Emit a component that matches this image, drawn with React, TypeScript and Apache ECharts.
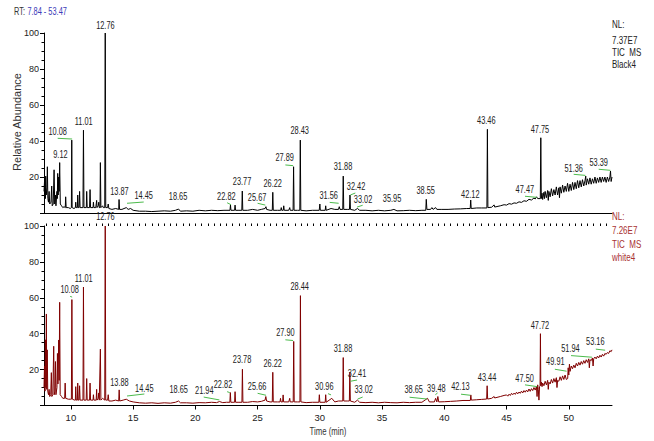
import React, { useEffect, useRef } from "react";
import * as echarts from "echarts";

const FONT = '"Liberation Sans", Arial, sans-serif';

// RT range
const RT_MIN = 7.84;
const RT_MAX = 53.47;

// Top chromatogram (Black4), [time, relative abundance]
const blackTrace: [number, number][] = [
  [7.84, 12], [7.9, 20], [7.95, 8], [7.98, 20.5], [8.02, 10], [8.08, 14], [8.11, 25.7], [8.15, 8], [8.2, 6], [8.25, 12],
  [8.3, 5], [8.4, 6], [8.46, 15], [8.5, 4], [8.58, 5], [8.65, 24], [8.7, 5], [8.76, 10], [8.8, 4], [8.88, 12],
  [8.91, 8], [8.94, 22], [8.98, 10], [9.02, 20], [9.06, 12], [9.1, 28], [9.15, 5], [9.25, 4], [9.35, 3], [9.45, 3.5],
  [9.55, 3], [9.58, 9], [9.62, 3], [9.8, 3], [9.95, 2.5], [10.04, 3], [10.07, 40.5], [10.1, 3], [10.25, 2.5], [10.36, 3],
  [10.39, 6], [10.42, 3], [10.52, 3], [10.55, 10], [10.59, 3], [10.66, 3], [10.7, 12], [10.74, 3], [10.9, 3], [10.97, 3],
  [11.01, 46], [11.05, 3], [11.24, 3], [11.27, 12], [11.31, 3], [11.5, 3], [11.54, 13], [11.58, 3], [11.78, 3], [11.81, 6],
  [11.85, 3], [12.0, 3], [12.07, 7], [12.1, 3], [12.2, 4], [12.24, 6], [12.28, 3], [12.34, 3], [12.37, 28], [12.41, 3],
  [12.55, 4], [12.6, 3], [12.72, 3], [12.76, 100], [12.8, 3], [12.95, 3], [13.0, 5], [13.05, 2.5], [13.3, 2], [13.6, 2.5],
  [13.84, 2], [13.87, 7.5], [13.91, 2], [14.1, 2], [14.45, 3], [14.6, 2], [14.8, 2.5], [15.0, 1.5], [15.5, 1], [16.0, 1],
  [16.5, 0.8], [17.0, 1], [17.5, 1.2], [18.0, 1], [18.4, 1.5], [18.65, 2.2], [18.8, 1], [19.3, 1.2], [19.8, 1], [20.3, 1.5],
  [20.8, 1.2], [21.3, 1.5], [21.8, 1.3], [22.3, 1.5], [22.78, 1.5], [22.82, 4.4], [22.86, 1.5], [23.15, 1.5], [23.19, 4.4], [23.23, 1.5],
  [23.5, 1.5], [23.73, 1.5], [23.77, 12.2], [23.81, 1.5], [24.2, 1.5], [24.6, 2], [25.0, 1.5], [25.3, 2], [25.6, 2.5], [25.67, 3.5],
  [25.72, 2], [26.0, 1.5], [26.18, 1.5], [26.22, 11.5], [26.26, 1.5], [26.6, 1.5], [26.86, 1.5], [26.9, 3], [26.94, 1.5], [27.06, 1.5],
  [27.1, 4], [27.14, 1.5], [27.5, 1.5], [27.58, 3], [27.62, 1.5], [27.85, 1.5], [27.89, 25.7], [27.93, 1.5], [28.2, 1.5], [28.39, 1.5],
  [28.43, 40.5], [28.47, 1.5], [28.9, 1.2], [29.4, 1.5], [29.95, 1.5], [30.0, 5], [30.04, 1.5], [30.43, 1.5], [30.47, 4], [30.51, 1.5],
  [30.9, 2.5], [31.2, 2], [31.5, 2], [31.56, 3.5], [31.62, 2], [31.84, 2], [31.88, 20.5], [31.92, 2], [32.2, 2], [32.38, 2],
  [32.42, 10], [32.46, 2], [32.8, 1.5], [33.02, 2.5], [33.2, 1.5], [33.7, 1.5], [34.2, 1.2], [34.7, 1.5], [35.2, 1.2], [35.7, 1.5],
  [35.95, 2], [36.2, 1.2], [36.7, 1.3], [37.2, 1.5], [37.7, 1.3], [38.2, 1.5], [38.51, 1.5], [38.55, 7.6], [38.6, 2], [38.9, 2],
  [39.0, 3], [39.1, 2], [39.3, 3], [39.4, 2], [39.8, 2], [40.3, 2], [40.8, 2.2], [41.3, 2.3], [41.8, 2.5], [42.08, 2.5],
  [42.12, 7.2], [42.16, 2.5], [42.6, 2.8], [43.0, 2.8], [43.42, 2.8], [43.46, 46.5], [43.5, 3], [43.8, 3.2], [44.0, 4.5], [44.05, 3.3],
  [44.5, 4], [44.8, 4.6], [45.0, 4.4], [45.2, 5.2], [45.4, 4.9], [45.6, 5.6], [45.8, 5.4], [46.0, 6.2], [46.2, 5.9], [46.4, 6.8],
  [46.6, 6.5], [46.8, 7.6], [47.0, 7.2], [47.2, 8.3], [47.3, 7.8], [47.41, 9], [47.5, 8], [47.71, 8], [47.75, 41.8], [47.79, 8],
  [47.85, 11], [47.9, 7.5], [48.0, 11.5], [48.05, 8], [48.1, 12], [48.2, 8.5], [48.3, 12.5], [48.35, 7], [48.4, 12], [48.5, 9],
  [48.6, 13.5], [48.7, 9.5], [48.8, 13], [48.9, 10], [49.0, 14.5], [49.1, 10], [49.2, 14], [49.25, 8.5], [49.3, 14.5], [49.4, 11],
  [49.5, 15.5], [49.6, 11.5], [49.7, 15], [49.8, 12], [49.9, 16.5], [50.0, 12], [50.1, 16], [50.2, 12.5], [50.3, 17], [50.4, 13],
  [50.5, 17], [50.6, 13.5], [50.7, 18], [50.8, 14], [50.9, 18], [51.0, 14.5], [51.1, 18.5], [51.2, 15], [51.3, 18], [51.36, 20.5],
  [51.4, 15.5], [51.5, 19], [51.6, 16], [51.7, 19.5], [51.8, 16], [51.9, 19], [52.0, 16.5], [52.1, 20], [52.2, 16.5], [52.3, 19.5],
  [52.4, 17], [52.5, 20], [52.6, 17], [52.7, 20], [52.8, 17.5], [52.9, 20], [53.0, 17], [53.1, 20], [53.2, 17.5], [53.3, 20],
  [53.35, 23.3], [53.4, 17.5], [53.47, 20],
];

// Bottom chromatogram (white4), [time, relative abundance]
const redTrace: [number, number][] = [
  [7.84, 10], [7.88, 22], [7.92, 8], [7.95, 36.6], [7.99, 10], [8.03, 51], [8.06, 9], [8.1, 31], [8.14, 8], [8.2, 6],
  [8.25, 9], [8.3, 5], [8.38, 6], [8.43, 18.3], [8.47, 5], [8.55, 6], [8.62, 33], [8.66, 6], [8.72, 8], [8.76, 24.5],
  [8.8, 6], [8.88, 10], [8.92, 29], [8.96, 12], [9.02, 36.5], [9.06, 14], [9.1, 57.5], [9.14, 6], [9.25, 5], [9.35, 4],
  [9.5, 4], [9.54, 12.5], [9.58, 4], [9.8, 3.5], [9.95, 3.5], [10.04, 3.5], [10.08, 59], [10.12, 3.5], [10.3, 3], [10.36, 3],
  [10.39, 10.5], [10.43, 3], [10.52, 3], [10.55, 12.5], [10.59, 3], [10.66, 3], [10.7, 11], [10.74, 3], [10.97, 3], [11.01, 66],
  [11.05, 3], [11.23, 3], [11.27, 15], [11.31, 3], [11.5, 3], [11.54, 12.5], [11.58, 3], [11.78, 3], [11.81, 6], [11.85, 3],
  [12.03, 3], [12.07, 9], [12.1, 3], [12.2, 4], [12.24, 7], [12.28, 3], [12.33, 3], [12.37, 31.4], [12.41, 3], [12.55, 4],
  [12.72, 3], [12.76, 100], [12.8, 3], [12.95, 3], [13.0, 6], [13.05, 2.5], [13.3, 2.5], [13.6, 3], [13.84, 2.5], [13.88, 8.7],
  [13.92, 2.5], [14.2, 3], [14.45, 3.5], [14.7, 2.5], [15.0, 2], [15.5, 1.5], [16.0, 1.3], [16.5, 1.5], [17.0, 1.2], [17.5, 1.5],
  [18.0, 1.3], [18.4, 1.8], [18.65, 2.5], [18.8, 1.5], [19.3, 1.5], [19.8, 1.3], [20.3, 1.6], [20.8, 1.5], [21.3, 1.8], [21.7, 1.6],
  [21.94, 2.2], [22.2, 1.6], [22.5, 1.8], [22.77, 1.8], [22.81, 7.2], [22.85, 1.8], [23.15, 1.8], [23.19, 7.7], [23.23, 1.8], [23.5, 1.8],
  [23.74, 1.8], [23.78, 20.2], [23.82, 1.8], [24.2, 1.8], [24.6, 2.2], [25.0, 2], [25.3, 2.3], [25.6, 3], [25.66, 5], [25.72, 2.5],
  [26.0, 2], [26.18, 2], [26.22, 18.5], [26.26, 2], [26.6, 2], [26.8, 2], [26.84, 4], [26.88, 2], [27.01, 2], [27.05, 5.9],
  [27.09, 2], [27.5, 2], [27.58, 4], [27.62, 2], [27.86, 2], [27.9, 35.7], [27.94, 2], [28.2, 2], [28.4, 2], [28.44, 61.2],
  [28.48, 2], [28.9, 1.6], [29.4, 1.8], [29.92, 1.8], [29.96, 6], [30.0, 1.8], [30.43, 1.8], [30.47, 6], [30.51, 1.8], [30.96, 4],
  [31.2, 2], [31.5, 2.5], [31.84, 2.5], [31.88, 26.7], [31.92, 2.5], [32.2, 2.5], [32.37, 2.5], [32.41, 18.5], [32.45, 2.5], [32.8, 1.8],
  [33.02, 3], [33.2, 1.8], [33.7, 1.6], [34.2, 1.8], [34.7, 1.5], [35.2, 1.8], [35.7, 1.6], [36.2, 1.5], [36.7, 1.8], [37.2, 1.6],
  [37.7, 1.8], [38.2, 1.8], [38.65, 4], [38.8, 2], [39.2, 2], [39.3, 4], [39.4, 2], [39.48, 5], [39.55, 2], [40.0, 2.1],
  [40.5, 2.3], [41.0, 2.5], [41.5, 2.8], [42.09, 2.8], [42.13, 5.9], [42.17, 3], [42.6, 3.2], [43.0, 3.4], [43.4, 3.6], [43.44, 11],
  [43.48, 3.6], [43.8, 4], [44.0, 5], [44.05, 4.2], [44.5, 5], [44.8, 5.6], [45.0, 5.9], [45.1, 5.2], [45.2, 6.3], [45.3, 5.6],
  [45.4, 6.8], [45.5, 6.0], [45.6, 6.9], [45.7, 6.2], [45.8, 7.4], [45.9, 6.5], [46.0, 7.5], [46.1, 6.8], [46.2, 8.0], [46.3, 7.0],
  [46.4, 8.3], [46.5, 7.4], [46.6, 8.6], [46.7, 7.6], [46.8, 9.2], [46.9, 7.9], [47.0, 9.4], [47.1, 8.3], [47.2, 10.0], [47.3, 8.6],
  [47.4, 10.5], [47.45, 5], [47.5, 11.5], [47.55, 9], [47.6, 3], [47.65, 10.5], [47.69, 11], [47.72, 40], [47.75, 11], [47.8, 13],
  [47.85, 10.5], [47.9, 12.5], [48.0, 11], [48.1, 13.5], [48.2, 11.5], [48.3, 14], [48.35, 9], [48.4, 13], [48.5, 12], [48.6, 14.5],
  [48.7, 12.5], [48.8, 15], [48.9, 13], [49.0, 15.5], [49.05, 10], [49.1, 14], [49.2, 13.5], [49.3, 16], [49.4, 14], [49.5, 16.5],
  [49.6, 14.5], [49.7, 17], [49.8, 14.5], [49.91, 15], [49.95, 21], [50.0, 17], [50.05, 23], [50.1, 19], [50.2, 22], [50.3, 20.5],
  [50.4, 22.5], [50.5, 21], [50.6, 23.5], [50.7, 22], [50.8, 24], [50.9, 22.5], [51.0, 24.5], [51.1, 23], [51.2, 25], [51.3, 23.5],
  [51.4, 25.5], [51.5, 24], [51.6, 26], [51.65, 21], [51.7, 25.5], [51.8, 25], [51.9, 26.5], [51.95, 22], [52.0, 26], [52.1, 27],
  [52.2, 26], [52.3, 27.5], [52.4, 26.5], [52.5, 28], [52.6, 27], [52.7, 28.5], [52.8, 27.5], [52.9, 29], [53.0, 28.5], [53.1, 29.5],
  [53.2, 29], [53.3, 30.5], [53.4, 30], [53.47, 31],
];

// Peak labels: [text, time at label centre, abundance at label bottom]
const blackLabels: [string, number, number][] = [
  ["12.76", 12.77, 101.1], ["11.01", 11.03, 48], ["10.08", 8.94, 42.4], ["9.12", 9.16, 29.4], ["13.87", 13.9, 9],
  ["14.45", 15.85, 6.8], ["18.65", 18.61, 6.3], ["22.82", 22.49, 6.3], ["23.77", 23.75, 14.6], ["25.67", 24.96, 5.7],
  ["26.22", 26.21, 13.7], ["27.89", 27.17, 28], ["28.43", 28.38, 42.8], ["31.56", 30.71, 6.7], ["31.88", 31.86, 23],
  ["32.42", 32.91, 11.8], ["33.02", 33.47, 4.4], ["35.95", 35.8, 5.4], ["38.55", 38.5, 9.4], ["42.12", 42.09, 7.6],
  ["43.46", 43.37, 48.3], ["47.47", 46.47, 10.4], ["47.75", 47.68, 43.7], ["51.36", 50.39, 21.7], ["53.39", 52.4, 25.2],
];

const redLabels: [string, number, number][] = [
  ["12.76", 12.77, 102.7], ["11.01", 11.03, 67.9], ["10.08", 9.9, 61.7], ["13.88", 13.9, 10.2], ["14.45", 15.9, 6.8],
  ["18.65", 18.66, 5.9], ["21.94", 20.72, 5.3], ["22.82", 22.22, 8.7], ["23.78", 23.75, 22.6], ["25.66", 24.96, 7.7],
  ["26.22", 26.21, 20.8], ["27.90", 27.23, 37.9], ["28.44", 28.38, 63.6], ["30.96", 30.36, 7.7], ["31.88", 31.86, 28.8],
  ["32.41", 32.99, 15.2], ["33.02", 33.52, 5.9], ["38.65", 37.54, 5.9], ["39.48", 39.36, 6.4], ["42.13", 41.29, 7.7],
  ["43.44", 43.43, 12.8], ["47.50", 46.45, 12.4], ["47.72", 47.68, 41.8], ["49.91", 48.92, 21.7], ["51.94", 50.13, 28.8],
  ["53.16", 52.13, 32.8],
];

// Green label leader segments: [t1, v1, t2, v2]
const blackLeaders: [number, number, number, number][] = [
  [8.94, 41.5, 10.1, 41.1], [14.51, 5.4, 15.85, 6.1], [22.55, 5.7, 22.87, 4.6], [25.0, 5.4, 25.62, 4.4],
  [27.23, 26.7, 27.85, 26.3], [30.79, 5.9, 31.51, 5.4], [32.45, 10, 32.85, 11.1], [32.99, 3.3, 33.44, 4.3],
  [46.48, 9.3, 47.42, 8.7], [50.39, 21.5, 51.33, 20.9], [52.4, 24.3, 53.34, 23.7],
];

const redLeaders: [number, number, number, number][] = [
  [9.94, 60.8, 10.1, 60.4], [14.51, 5.3, 15.9, 6.4], [20.67, 4.7, 21.93, 3.1], [22.55, 7.7, 22.76, 7.2],
  [25.0, 6.8, 25.68, 5.7], [27.23, 36.6, 27.85, 36.2], [30.66, 6.6, 30.9, 5.9], [32.45, 13.5, 32.99, 14.2],
  [33.04, 3.6, 33.44, 4.7], [37.21, 4.6, 38.61, 3.6], [39.28, 6, 39.46, 7], [41.34, 6.3, 42.09, 5.7],
  [46.48, 11.5, 47.46, 10.5], [48.88, 20.2, 49.82, 19.1], [50.18, 27.8, 51.86, 26.9], [52.17, 31.4, 52.92, 30.8],
];

// Axis ticks
const X_MAJOR_TICKS = [10, 15, 20, 25, 30, 35, 40, 45, 50];
const X_MINOR_TICKS = Array.from({ length: 92 }, (_, i) => 8 + i * 0.5).filter((v) => v <= RT_MAX);

const TOP_INFO = ["NL:", "7.37E7", "TIC  MS", "Black4"];
const BOTTOM_INFO = ["NL:", "7.26E7", "TIC  MS", "white4"];

const GREEN = "#4cbb4c";
const BLACK_LINE = "#000000";
const RED_LINE = "#800000";
const RED_TEXT = "#a83232";
const LABEL_COLOR = "#222222";
const NARROW = 0.74;

const GRID_LEFT = 44;
const GRID_WIDTH = 568;

function yAxisDef(gridIndex: number) {
  return {
    type: "value",
    gridIndex,
    min: 0,
    max: 100,
    interval: 20,
    axisLine: { show: true, onZero: false, lineStyle: { color: "#000", width: 1 } },
    axisTick: { show: true, length: 4, lineStyle: { color: "#000" } },
    minorTick: { show: true, splitNumber: 4, length: 2.5, lineStyle: { color: "#000" } },
    splitLine: { show: false },
    axisLabel: {
      fontSize: 9,
      fontFamily: FONT,
      color: "#222",
      margin: 5,
      formatter: (v: number) => (v === 0 ? "" : String(v)),
    },
  };
}

function labelSeries(labels: [string, number, number][], idx: number) {
  return {
    type: "custom",
    coordinateSystem: "cartesian2d",
    xAxisIndex: idx === 0 ? 0 : 1,
    yAxisIndex: idx,
    clip: false,
    silent: true,
    z: 5,
    data: labels.map(([, t, v]) => [t, v]),
    renderItem: (params: any, api: any) => {
      const p = api.coord([api.value(0), api.value(1)]);
      return {
        type: "text",
        x: p[0],
        y: p[1],
        scaleX: NARROW,
        style: {
          text: labels[params.dataIndex][0],
          fontSize: 10,
          fontFamily: FONT,
          fill: LABEL_COLOR,
          align: "center",
          verticalAlign: "bottom",
        },
      };
    },
  };
}

function leaderSeries(leaders: [number, number, number, number][], idx: number) {
  return {
    type: "lines",
    coordinateSystem: "cartesian2d",
    xAxisIndex: idx === 0 ? 0 : 1,
    yAxisIndex: idx,
    silent: true,
    z: 4,
    lineStyle: { color: GREEN, width: 1, opacity: 1 },
    data: leaders.map(([t1, v1, t2, v2]) => ({ coords: [[t1, v1], [t2, v2]] })),
  };
}

function infoTexts(lines: string[], ys: number[], color: string) {
  return lines.map((s, i) => ({
    type: "text",
    x: 612,
    y: ys[i],
    scaleX: 0.8,
    style: { text: s, fontSize: 10, fontFamily: FONT, fill: color, align: "left", verticalAlign: "middle" },
  }));
}

export default function App() {
  const ref = useRef<HTMLDivElement>(null);

  useEffect(() => {
    if (!ref.current) return;
    const chart = echarts.init(ref.current, null, { renderer: "svg" });
    chart.setOption({
      animation: false,
      backgroundColor: "#ffffff",
      grid: [
        { left: GRID_LEFT, top: 33, width: GRID_WIDTH, height: 180 },
        { left: GRID_LEFT, top: 226, width: GRID_WIDTH, height: 179.5 },
      ],
      xAxis: [
        {
          type: "value",
          gridIndex: 0,
          min: RT_MIN,
          max: RT_MAX,
          axisLine: { show: true, onZero: false, lineStyle: { color: "#000", width: 1 } },
          axisTick: { show: false },
          axisLabel: { show: false },
          splitLine: { show: false },
        },
        {
          type: "value",
          gridIndex: 1,
          min: RT_MIN,
          max: RT_MAX,
          axisLine: { show: true, onZero: false, lineStyle: { color: "#000", width: 1 } },
          axisTick: { show: true, length: 4, customValues: X_MAJOR_TICKS, lineStyle: { color: "#000" } },
          axisLabel: {
            show: true,
            customValues: X_MAJOR_TICKS,
            fontSize: 9.5,
            fontFamily: FONT,
            color: "#222",
            margin: 7,
          },
          splitLine: { show: false },
        },
        {
          type: "value",
          gridIndex: 1,
          min: RT_MIN,
          max: RT_MAX,
          axisLine: { show: false, onZero: false },
          axisTick: { show: true, length: 2.5, customValues: X_MINOR_TICKS, lineStyle: { color: "#000" } },
          axisLabel: { show: false },
          splitLine: { show: false },
        },
      ],
      yAxis: [yAxisDef(0), yAxisDef(1)],
      series: [
        {
          type: "line",
          xAxisIndex: 0,
          yAxisIndex: 0,
          data: blackTrace,
          showSymbol: false,
          symbol: "none",
          lineStyle: { color: BLACK_LINE, width: 1 },
          z: 3,
        },
        {
          type: "line",
          xAxisIndex: 1,
          yAxisIndex: 1,
          data: redTrace,
          showSymbol: false,
          symbol: "none",
          lineStyle: { color: RED_LINE, width: 1 },
          z: 3,
        },
        leaderSeries(blackLeaders, 0),
        leaderSeries(redLeaders, 1),
        labelSeries(blackLabels, 0),
        labelSeries(redLabels, 1),
      ],
      graphic: [
        {
          type: "text",
          x: 14,
          y: 12,
          scaleX: NARROW,
          style: {
            text: "{a|RT:} {b|7.84 - 53.47}",
            verticalAlign: "middle",
            rich: {
              a: { fontSize: 10, fontFamily: FONT, fill: "#333" },
              b: { fontSize: 10, fontFamily: FONT, fill: "#3b3bb8" },
            },
          },
        },
        {
          type: "text",
          x: 17,
          y: 122,
          rotation: Math.PI / 2,
          style: {
            text: "Relative Abundance",
            fontSize: 11,
            fontFamily: FONT,
            fill: "#333",
            align: "center",
            verticalAlign: "middle",
          },
        },
        {
          type: "text",
          x: 328,
          y: 432,
          scaleX: NARROW,
          style: {
            text: "Time (min)",
            fontSize: 10.5,
            fontFamily: FONT,
            fill: "#333",
            align: "center",
            verticalAlign: "middle",
          },
        },
        ...infoTexts(TOP_INFO, [25, 41, 53, 65], "#222"),
        ...infoTexts(BOTTOM_INFO, [217, 231, 245, 258], RED_TEXT),
      ],
    });
    return () => chart.dispose();
  }, []);

  return (
    <div
      ref={ref}
      style={{ position: "fixed", left: 0, top: 0, width: 654, height: 441, background: "#fff" }}
    />
  );
}
